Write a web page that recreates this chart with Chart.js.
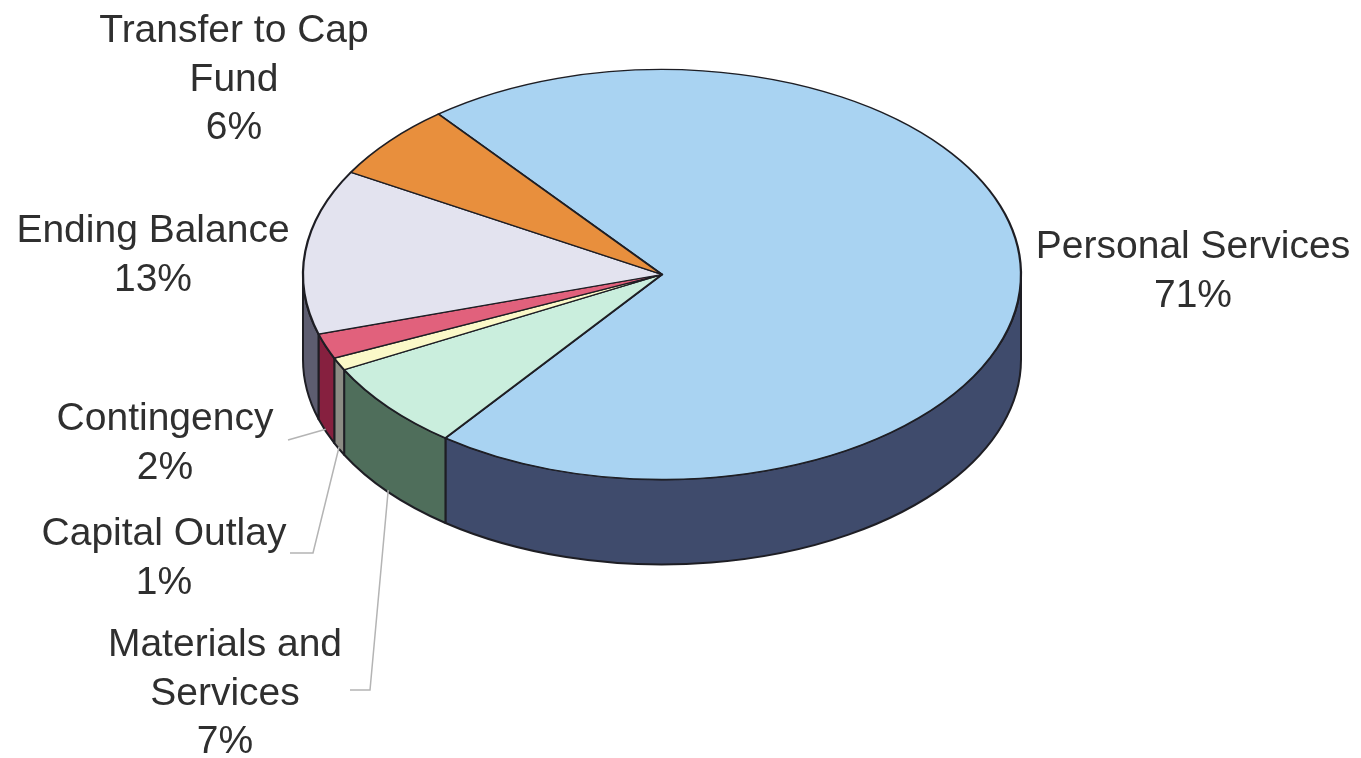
<!DOCTYPE html>
<html lang="en">
<head>
    <meta charset="UTF-8">
    <title>Budget by category</title>
    <script src="https://cdn.jsdelivr.net/npm/chart.js"></script>
    <style>
        html, body { margin: 0; padding: 0; background: #fff; }
        #chart { display: block; }
    </style>
</head>
<body>
    <canvas id="chart" width="1361" height="758"></canvas>
    <script>
        // data, clockwise from the orange/blue edge
        const categories = ['Personal Services', 'Materials and Services', 'Capital Outlay', 'Contingency', 'Ending Balance', 'Transfer to Cap Fund'];
        const percents = [71, 7, 1, 2, 13, 6];
        const labelLines = [
            ['Personal Services', '71%'],
            ['Materials and', 'Services', '7%'],
            ['Capital Outlay', '1%'],
            ['Contingency', '2%'],
            ['Ending Balance', '13%'],
            ['Transfer to Cap', 'Fund', '6%']
        ];
        const topColors = ['#a9d3f2', '#caeedd', '#fbf9c8', '#e1617c', '#e3e3ef', '#e88f3d'];
        const sideColors = ['#3f4b6c', '#4f6e5b', '#8c8c84', '#86203f', '#5d5d70', '#8a5020'];

        // look of the tilted pie
        const RX = 359, RY = 205, DEPTH = 85;
        const SX = RX / RY;
        const FONT = '39px "Liberation Sans", Arial, sans-serif';
        const LINE_H = 48.5;

        // label placement: centre x, first baseline, leader elbow points
        const labelPos = [
            { x: 1193, y: 258 },
            { x: 225, y: 656, leader: [[370, 690], [350, 690]] },
            { x: 164, y: 545, leader: [[313, 553], [290, 553]] },
            { x: 165, y: 430, leader: [[288, 440]] },
            { x: 153, y: 242 },
            { x: 234, y: 42 }
        ];

        const pie3d = {
            id: 'pie3d',
            beforeDatasetsDraw(chart) {
                const ctx = chart.ctx;
                const arcs = chart.getDatasetMeta(0).data;
                const cx = arcs[0].x, cy = arcs[0].y;
                ctx.save();
                ctx.lineWidth = 2;
                ctx.strokeStyle = '#1e1e24';
                ctx.lineJoin = 'round';
                arcs.forEach((a, i) => {
                    const s = Math.max(a.startAngle, 0);
                    const e = Math.min(a.endAngle, Math.PI);
                    if (e <= s) return;
                    ctx.beginPath();
                    ctx.ellipse(cx, cy, RX, RY, 0, s, e);
                    ctx.lineTo(cx + RX * Math.cos(e), cy + RY * Math.sin(e) + DEPTH);
                    ctx.ellipse(cx, cy + DEPTH, RX, RY, 0, e, s, true);
                    ctx.closePath();
                    ctx.fillStyle = sideColors[i];
                    ctx.fill();
                    ctx.stroke();
                });
                ctx.restore();
                // squash the circle into the top ellipse
                ctx.save();
                ctx.translate(cx, cy);
                ctx.scale(SX, 1);
                ctx.translate(-cx, -cy);
            },
            afterDatasetsDraw(chart) {
                chart.ctx.restore();
            },
            afterDraw(chart) {
                const ctx = chart.ctx;
                const arcs = chart.getDatasetMeta(0).data;
                const cx = arcs[0].x, cy = arcs[0].y;
                ctx.save();
                ctx.strokeStyle = '#b4b4b4';
                ctx.lineWidth = 1.5;
                labelPos.forEach((p, i) => {
                    if (!p.leader) return;
                    const a = arcs[i];
                    const m = (a.startAngle + a.endAngle) / 2;
                    ctx.beginPath();
                    ctx.moveTo(cx + RX * Math.cos(m), cy + RY * Math.sin(m) + DEPTH - 2);
                    p.leader.forEach(pt => ctx.lineTo(pt[0], pt[1]));
                    ctx.stroke();
                });
                ctx.fillStyle = '#2f2f2f';
                ctx.font = FONT;
                ctx.textAlign = 'center';
                ctx.textBaseline = 'alphabetic';
                labelLines.forEach((lines, i) => {
                    lines.forEach((t, k) => ctx.fillText(t, labelPos[i].x, labelPos[i].y + k * LINE_H));
                });
                ctx.restore();
            }
        };

        new Chart(document.getElementById('chart'), {
            type: 'pie',
            data: {
                labels: categories,
                datasets: [{
                    data: percents,
                    backgroundColor: topColors,
                    borderColor: '#1e1e24',
                    borderWidth: 1.3,
                    borderJoinStyle: 'round',
                    clip: false
                }]
            },
            options: {
                responsive: false,
                animation: false,
                events: [],
                rotation: -38.5,
                radius: RY,
                layout: { padding: { top: 69, bottom: 278, left: 262, right: 299 } },
                plugins: {
                    legend: { display: false },
                    tooltip: { enabled: false }
                }
            },
            plugins: [pie3d]
        });
    </script>
</body>
</html>
